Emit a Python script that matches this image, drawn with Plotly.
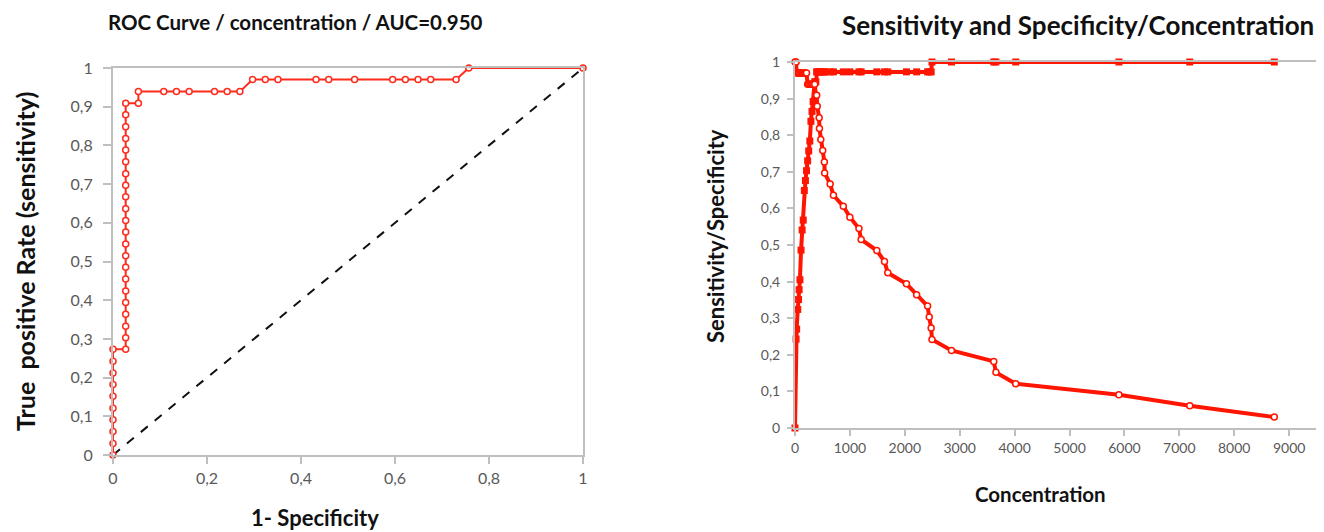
import plotly.graph_objects as go

W, H = 1324, 532

# ---------------- data ----------------
# ROC curve (left)
roc_fpr = [0, 0, 0, 0, 0, 0, 0, 0, 0, 0,
           0.027, 0.027, 0.027, 0.027, 0.027, 0.027, 0.027, 0.027, 0.027, 0.027, 0.027,
           0.027, 0.027, 0.027, 0.027, 0.027, 0.027, 0.027, 0.027, 0.027, 0.027, 0.027,
           0.054, 0.054, 0.108, 0.135, 0.162, 0.216, 0.243, 0.270,
           0.297, 0.324, 0.351, 0.432, 0.459, 0.514, 0.595, 0.622, 0.649, 0.676, 0.730,
           0.757, 1.0]
roc_tpr = [0, 0.030, 0.061, 0.091, 0.121, 0.152, 0.182, 0.212, 0.242, 0.273,
           0.273, 0.303, 0.333, 0.364, 0.394, 0.424, 0.455, 0.485, 0.515, 0.545, 0.576,
           0.606, 0.636, 0.667, 0.697, 0.727, 0.758, 0.788, 0.818, 0.848, 0.879, 0.909,
           0.909, 0.939, 0.939, 0.939, 0.939, 0.939, 0.939, 0.939,
           0.970, 0.970, 0.970, 0.970, 0.970, 0.970, 0.970, 0.970, 0.970, 0.970, 0.970,
           1.0, 1.0]
ref_x = [0, 1]
ref_y = [0, 1]

# Sensitivity / specificity vs concentration (right)
concentration = [0, 20, 30, 50, 65, 75, 90, 110, 130, 150, 170, 190, 210, 230, 250, 270,
                 290, 310, 330, 360, 380, 395, 405, 440, 445, 470, 505, 535, 540, 640,
                 700, 880, 1000, 1165, 1205, 1490, 1630, 1690, 2030, 2215, 2415, 2445,
                 2480, 2495, 2850, 3620, 3660, 4020, 5900, 7190, 8730]
sensitivity = [1.0, 1.0, 0.970, 0.970, 0.970, 0.970, 0.970, 0.970, 0.970, 0.970, 0.970,
               0.970, 0.970, 0.939, 0.939, 0.939, 0.939, 0.939, 0.939, 0.939, 0.909,
               0.909, 0.879, 0.848, 0.818, 0.788, 0.758, 0.727, 0.697, 0.667, 0.636,
               0.606, 0.576, 0.545, 0.515, 0.485, 0.455, 0.424, 0.394, 0.364, 0.333,
               0.303, 0.273, 0.242, 0.212, 0.182, 0.152, 0.121, 0.091, 0.061, 0.030]
specificity = [0.0, 0.243, 0.270, 0.324, 0.351, 0.378, 0.405, 0.486, 0.541, 0.568, 0.649,
               0.676, 0.703, 0.730, 0.757, 0.784, 0.838, 0.865, 0.892, 0.946, 0.946,
               0.973, 0.973, 0.973, 0.973, 0.973, 0.973, 0.973, 0.973, 0.973, 0.973,
               0.973, 0.973, 0.973, 0.973, 0.973, 0.973, 0.973, 0.973, 0.973, 0.973,
               0.973, 0.973, 1.0, 1.0, 1.0, 1.0, 1.0, 1.0, 1.0, 1.0]

y_ticks = [0, 0.1, 0.2, 0.3, 0.4, 0.5, 0.6, 0.7, 0.8, 0.9, 1]
y_ticktext = ["0", "0,1", "0,2", "0,3", "0,4", "0,5", "0,6", "0,7", "0,8", "0,9", "1"]
x1_ticks = [0, 0.2, 0.4, 0.6, 0.8, 1]
x1_ticktext = ["0", "0,2", "0,4", "0,6", "0,8", "1"]
x2_ticks = [0, 1000, 2000, 3000, 4000, 5000, 6000, 7000, 8000, 9000]

# ---------------- figure ----------------
OFF = 8  # page body margin offset

def px(x):
    return (x - OFF) / W

def py(y):
    return 1 - (y - OFF) / H

RED_L = "#ff2b1c"
RED_R = "#ff1500"
GRID = "#bfbfbf"
FONT = "Lato"
TICKCOL = "#595959"

fig = go.Figure()

fig.add_trace(go.Scatter(x=ref_x, y=ref_y, mode="lines", xaxis="x", yaxis="y",
                         line=dict(color="#111111", width=2, dash="dash"),
                         cliponaxis=False, showlegend=False))
fig.add_trace(go.Scatter(x=roc_fpr, y=roc_tpr, mode="lines+markers", xaxis="x", yaxis="y",
                         line=dict(color=RED_L, width=2),
                         marker=dict(symbol="circle", size=6, color="white",
                                     line=dict(color=RED_L, width=1.5)),
                         cliponaxis=False, showlegend=False))

fig.add_trace(go.Scatter(x=concentration, y=specificity, mode="lines+markers",
                         xaxis="x2", yaxis="y2",
                         line=dict(color=RED_R, width=4),
                         marker=dict(symbol="square", size=7, color=RED_R),
                         cliponaxis=False, showlegend=False))
fig.add_trace(go.Scatter(x=concentration, y=sensitivity, mode="lines+markers",
                         xaxis="x2", yaxis="y2",
                         line=dict(color=RED_R, width=4),
                         marker=dict(symbol="circle", size=6, color="white",
                                     line=dict(color=RED_R, width=1.5)),
                         cliponaxis=False, showlegend=False))

fig.update_layout(
    width=W, height=H,
    margin=dict(l=0, r=0, t=0, b=0, pad=0, autoexpand=False),
    paper_bgcolor="white", plot_bgcolor="white",
    xaxis=dict(domain=[px(113), px(583)], range=[0, 1], anchor="y", automargin=False,
               tickvals=x1_ticks, ticktext=x1_ticktext,
               tickfont=dict(family=FONT, size=16, color=TICKCOL),
               showgrid=False, zeroline=False, showline=True, mirror=True,
               linecolor=GRID, linewidth=2, ticks="outside", ticklen=7,
               tickcolor=GRID, tickwidth=1.5, ticklabelstandoff=1),
    yaxis=dict(domain=[py(455), py(68)], range=[0, 1], anchor="x", automargin=False,
               tickvals=y_ticks, ticktext=y_ticktext,
               tickfont=dict(family=FONT, size=16, color=TICKCOL),
               showgrid=False, zeroline=False, showline=True, mirror=True,
               linecolor=GRID, linewidth=2, ticks="outside", ticklen=8,
               tickcolor=GRID, tickwidth=1.5, ticklabelstandoff=7),
    xaxis2=dict(domain=[px(795), px(1318)], range=[0, 9526], anchor="y2", automargin=False,
                tickvals=x2_ticks, tickfont=dict(family=FONT, size=14, color=TICKCOL),
                showgrid=False, zeroline=False, showline=True, mirror=True,
                linecolor=GRID, linewidth=2, ticks="outside", ticklen=6,
                tickcolor=GRID, tickwidth=1.5, ticklabelstandoff=0),
    yaxis2=dict(domain=[py(428), py(62)], range=[0, 1], anchor="x2", automargin=False,
                tickvals=y_ticks, ticktext=y_ticktext,
                tickfont=dict(family=FONT, size=14, color=TICKCOL),
                showgrid=False, zeroline=False, showline=True,
                linecolor=GRID, linewidth=2, ticks="outside", ticklen=6,
                tickcolor=GRID, tickwidth=1.5, ticklabelstandoff=4),
)

def ann(text, x, y, size, angle=0, xanchor="center", yanchor="middle", color="#111111"):
    fig.add_annotation(text="<b>" + text + "</b>", x=px(x), y=py(y), xref="paper", yref="paper",
                       showarrow=False, xanchor=xanchor, yanchor=yanchor, textangle=angle,
                       font=dict(family=FONT, size=size, color=color))

ann("ROC Curve / concentration / AUC=0.950", 295, 8, 20.5, yanchor="top")
ann("Sensitivity and Specificity/Concentration", 1078, 25, 26)
ann("True  positive Rate (sensitivity)", 8, 262, 25, angle=-90, xanchor="left")
ann("1- Specificity", 315, 517, 22)
ann("Sensitivity/Specificity", 715, 236, 22, angle=-90)
ann("Concentration", 1040, 494, 20.5)

fig.write_html("out.html")
